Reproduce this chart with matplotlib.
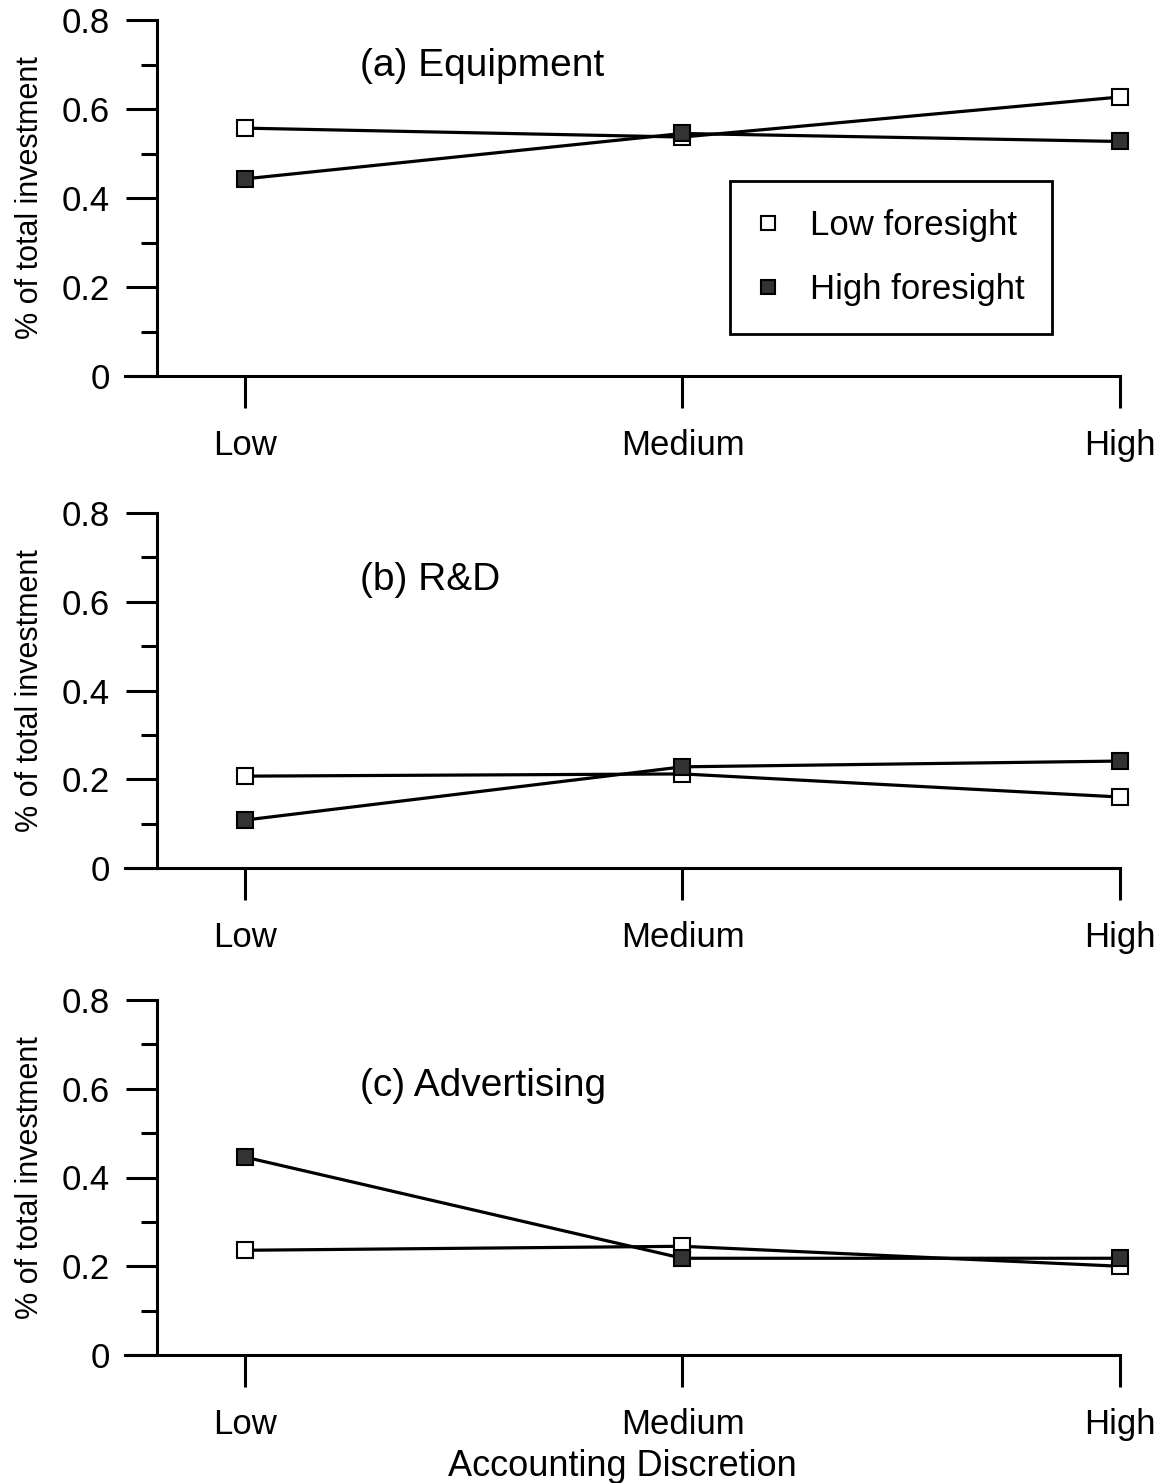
import numpy as np
import matplotlib.pyplot as plt

plt.rcParams['font.family'] = ['Liberation Sans', 'DejaVu Sans']

# categorie asse x e titoli dei pannelli
categorie = ['Low', 'Medium', 'High']
titoli = ['(a) Equipment', '(b) R&D', '(c) Advertising']

# valori (quota dell'investimento totale)
equip_low = [0.557, 0.537, 0.627]
equip_high = [0.443, 0.545, 0.527]
rd_low = [0.207, 0.212, 0.160]
rd_high = [0.108, 0.228, 0.241]
adv_low = [0.236, 0.245, 0.200]
adv_high = [0.446, 0.218, 0.218]

serie = [(equip_low, equip_high), (rd_low, rd_high), (adv_low, adv_high)]

W, H = 1172, 1483
fig = plt.figure(figsize=(W / 100, H / 100), dpi=100)

# posizioni in pixel: (alto, basso) di ciascun pannello
pannelli_px = [(20, 376), (513, 868), (1000, 1355)]
titolo_y = [0.697, 0.648, 0.607]
x_left, x_right = 125, 1120

x = np.arange(3)
for i, ((top, bot), (low, high)) in enumerate(zip(pannelli_px, serie)):
    ax = fig.add_axes([x_left / W, 1 - bot / H, (x_right - x_left) / W, (bot - top) / H])
    ax.set_xlim(-0.274, 2.0)
    ax.set_ylim(0, 0.8)

    ax.plot(x, low, '-s', color='black', lw=2.3, ms=11, mfc='white', mec='black',
            mew=1.5, clip_on=False, label='Low foresight', zorder=3)
    ax.plot(x, high, '-s', color='black', lw=2.3, ms=11, mfc='#333333', mec='black',
            mew=1.5, clip_on=False, label='High foresight', zorder=4)

    ax.spines['top'].set_visible(False)
    ax.spines['right'].set_visible(False)
    ax.spines['left'].set_position(('data', -0.2))
    ax.spines['left'].set_linewidth(2.2)
    ax.spines['bottom'].set_linewidth(2.2)

    ax.set_yticks([0, 0.2, 0.4, 0.6, 0.8])
    ax.set_yticklabels(['0', '0.2', '0.4', '0.6', '0.8'])
    ax.set_yticks([0.1, 0.3, 0.5, 0.7], minor=True)
    ax.tick_params(axis='y', which='major', length=22, width=2.2, labelsize=25, pad=12)
    ax.tick_params(axis='y', which='minor', length=11.5, width=2.2)
    ax.set_xticks(x)
    ax.set_xticklabels(categorie)
    ax.tick_params(axis='x', length=23, width=2.2, labelsize=25, pad=15)

    ax.set_ylabel('% of total investment', fontsize=22)
    ax.yaxis.set_label_coords(-0.08, 0.5)

    ax.text(0.263, titolo_y[i], titoli[i], fontsize=28, ha='left', va='center')

    if i == 0:
        leg = ax.legend(loc='upper left', bbox_to_anchor=(730 / W, 1 - 181 / H),
                        bbox_transform=fig.transFigure, borderaxespad=0,
                        fontsize=25, frameon=True, fancybox=False, framealpha=1,
                        handlelength=0.6, handletextpad=0.9, labelspacing=0.9,
                        borderpad=0.8)
        for h in leg.legend_handles:
            h.set_linestyle('')
            h.set_markersize(10)
        leg.get_frame().set_edgecolor('black')
        leg.get_frame().set_linewidth(2)
    if i == 2:
        ax.set_xlabel('Accounting Discretion', fontsize=26, labelpad=6)

fig.savefig('out.png', dpi=100)
